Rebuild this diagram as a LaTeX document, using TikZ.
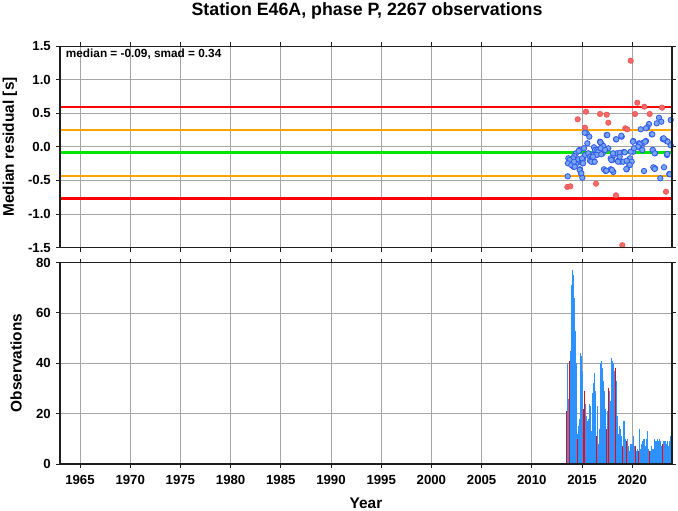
\documentclass[tikz,border=0pt]{standalone}
\usepackage{fontspec}
\setmainfont{Liberation Sans}
\definecolor{gridc}{RGB}{165,165,165}
\definecolor{frame}{RGB}{30,30,30}
\definecolor{redl}{RGB}{255,0,0}
\definecolor{orangel}{RGB}{255,165,0}
\definecolor{greenl}{RGB}{0,230,0}
\definecolor{bfill}{RGB}{120,165,240}
\definecolor{bline}{RGB}{50,90,235}
\definecolor{rfill}{RGB}{245,105,105}
\definecolor{rline}{RGB}{235,80,80}
\definecolor{hbar}{RGB}{45,145,255}
\begin{document}
\begin{tikzpicture}[x=1pt,y=-1pt,
  gridline/.style={gridc,line width=0.7pt},
  framel/.style={frame,line width=1.8pt},
  tickl/.style={frame,line width=0.9pt},
  ticklab/.style={font=\fontsize{13.2}{14}\selectfont\bfseries,inner sep=0pt},
  axlab/.style={font=\fontsize{15.4}{17}\selectfont\bfseries,inner sep=0pt},
  bpt/.style={fill=bfill,draw=bline,line width=0.8pt},
  rpt/.style={fill=rfill,draw=rline,line width=0.6pt},
  refl/.style={line width=2.2pt},
  hb/.style={fill=hbar},
  rb/.style={fill=red}]
\useasboundingbox[fill=white] (0,0) rectangle (678,511);
% title
\node[font=\fontsize{17.8}{20}\selectfont\bfseries,inner sep=0pt] (title) at (367,11) {Station E46A, phase P, 2267 observations};
% ---------- top panel ----------
\coordinate (tl) at (60,46.5);
\coordinate (br) at (672,247.5);
\foreach \i in {0,...,11} {
  \pgfmathsetmacro\xx{80+\i*50.2}
  \draw[gridline] (\xx,46.5) -- (\xx,247.5);
  \draw[tickl] (\xx,46.5) -- (\xx,42.5);
  \draw[tickl] (\xx,247.5) -- (\xx,251.5);
}
\foreach \v/\lab in {1.5/1.5,1.0/1.0,0.5/0.5,0.0/0.0,-0.5/-0.5,-1.0/-1.0,-1.5/-1.5} {
  \pgfmathsetmacro\yy{146.8-67.2*\v}
  \draw[gridline] (60,\yy) -- (672,\yy);
  \draw[tickl] (60,\yy) -- (56,\yy);
  \draw[tickl] (672,\yy) -- (676,\yy);
  \node[ticklab,anchor=east] (yl\lab) at (51,\yy) {\lab};
}
\draw[refl,redl] (60,107.2) -- (672,107.2);
\draw[refl,orangel] (60,130.0) -- (672,130.0);
\draw[greenl,line width=3.2pt] (60,152.8) -- (672,152.8);
\draw[refl,orangel] (60,175.7) -- (672,175.7);
\draw[refl,redl] (60,198.5) -- (672,198.5);
% red points
\foreach \p in {(630.7,60.7),(637.3,102.7),(644.3,106.7),(662,107.7),(586,111.7),(600,114),(606.7,114.7),(635,114),(649.7,114),(577.7,119.3),(608.3,122.7),(585,127.7),(625.3,128.3),(627.3,129.3),(567.3,187),(570.3,186.3),(596,183.7),(616,195.3),(666,191.7),(622.3,245.2)}
  \draw[rpt] \p circle (2.7);
% blue points
\foreach \p in {(659,117.7),(661.3,121.7),(656.7,123.3),(649,124),(647.3,127.3),(646,128.3),(640.7,129.3),(670.7,120),(651.7,134.3),(633.3,141),(639,143.3),(641.7,146),(643.3,142.7),(646,141),(638.3,147.3),(642.3,150),(662.7,139),(666,140.7),(667.7,141.7),(670.7,145.3),(652.7,150),(655,153.3),(667,155),(664,167.3),(655,168.3),(653.3,167.3),(660.3,178.3),(669.3,174),(644,171),(633.3,151.7),(630,158.3),(631.7,161.7),(629.3,165.3),(626.7,169.3),(621.7,136.7),(616,139.3),(606.7,135),(600,141.7),(601.7,144),(603.3,146),(608.3,148.3),(610.7,158.3),(612.3,160),(614,155),(616.7,153.3),(620,152.7),(624,152),(618.3,160.7),(620.7,161.7),(623.3,161.7),(626.7,160.7),(604,169.3),(610.7,169.3),(613.3,172),(605.7,171),(586.7,133.3),(589.3,136.7),(587.3,143.3),(584,148.3),(579.3,150),(576,153.3),(574.3,156),(568.3,158.3),(569.3,162.7),(571.7,165),(573.3,166.7),(576,164),(578.3,159.3),(581.7,162.7),(582.3,160),(583.3,159),(585,155),(588.3,153.3),(590,156.7),(591.7,158.3),(593.3,155),(594,147.3),(595,150),(597.3,150),(598.3,151.7),(600.7,148.3),(602.7,153.3),(605,150),(591.7,161.7),(594,161.7),(580,169.3),(581,173.3),(582.3,177.7),(567.7,176.3),(590,160.7),(596.7,155),(573,158.3),(569.7,160),(568,163.3),(571.3,165),(574.7,166.7),(574,161.7),(582,158.3),(583,163.3),(578.7,151),(591.3,161.7),(594.7,161.7),(593,156.7),(601.3,154.3),(613,153.3),(619.7,156.7),(624.7,152.3),(630.7,151.7),(611.3,160),(618,161.7),(629.7,165),(626.3,169),(612,170),(606.3,170.7),(579.7,170),(581.3,173.3),(654.7,169),(669.7,174.3),(652.7,150),(654.7,153.3),(667.3,154),(663.7,138.3),(652.3,134.3),(584.7,132.7),(607.3,135),(621.3,135.7),(616.3,139.3),(600.3,142.3),(633,141.7),(645.3,141.7),(639.7,144.3),(638,146.7),(634,148.3)}
  \draw[bpt] \p circle (2.7);
% median label
\node[font=\fontsize{11.8}{13}\selectfont\bfseries,inner sep=0pt,anchor=base west] (med) at (65.7,57.3) {median = -0.09, smad = 0.34};
% frame
\draw[framel] (60,46.5) rectangle (672,247.5);
\node[axlab,rotate=90] (ylab1) at (10,147) {Median residual [s]};
% ---------- bottom panel ----------
\foreach \i in {0,...,11} {
  \pgfmathsetmacro\xx{80+\i*50.2}
  \draw[gridline] (\xx,262.5) -- (\xx,464);
  \draw[tickl] (\xx,262.5) -- (\xx,258.5);
  \draw[tickl] (\xx,464) -- (\xx,468);
}
\foreach \yr [count=\i from 0] in {1965,1970,1975,1980,1985,1990,1995,2000,2005,2010,2015,2020} {
  \pgfmathsetmacro\xx{80+\i*50.2}
  \node[ticklab] (xl\yr) at (\xx,480) {\yr};
}
\foreach \v in {0,20,40,60,80} {
  \pgfmathsetmacro\yy{464-2.5188*\v}
  \draw[gridline] (60,\yy) -- (672,\yy);
  \draw[tickl] (60,\yy) -- (56,\yy);
  \draw[tickl] (672,\yy) -- (676,\yy);
  \node[ticklab,anchor=east] (ol\v) at (51,\yy) {\v};
}
% histogram bars
\foreach \x/\h in {567/40,568/26,569/41,570/45,571/71,572/77,573/75,574/66,575/53,576/40,577/12,578/15,579/18,580/44,581/43,582/37,583/22,584/29,585/24,586/19,587/17,588/18,589/24,590/23,591/13,592/28,593/32,594/36,595/29,596/11,597/23,598/8,599/14,600/40,601/41,602/38,603/33,604/29,605/22,606/14,607/21,608/30,609/29,610/25,611/42,612/41,613/40,614/37,615/38,616/33,617/19,618/12,619/15,620/14,621/11,622/7,623/17,624/17,625/10,626/9,627/10,628/7,629/5,630/8,631/8,632/8,633/11,634/7,635/7,636/5,637/6,638/5,639/14,640/6,641/8,642/9,643/10,644/10,645/7,646/10,647/13,648/6,649/5,650/5,651/7,652/6,653/6,654/10,655/9,656/9,657/10,658/9,659/10,660/9,661/7,662/8,663/9,664/9,665/9,666/8,667/9,668/7,669/9,670/11,671/8}
  \fill[hb] (\x-0.5,464) rectangle (\x+0.5,{464-2.5188*\h});
\foreach \x/\h in {566/21,569.5/41,577/10,583/22,584.5/29,596/11,606/14,608/30,615/38,622/7,626/9,635/7,638/5,649/5,662/8}
  \fill[rb] (\x-0.45,464) rectangle (\x+0.45,{464-2.5188*\h});
\draw[framel] (60,262.5) rectangle (672,464);
\node[axlab,rotate=90] (ylab2) at (16,363) {Observations};
\node[axlab] (xlab) at (366,503) {Year};
\end{tikzpicture}
\end{document}
